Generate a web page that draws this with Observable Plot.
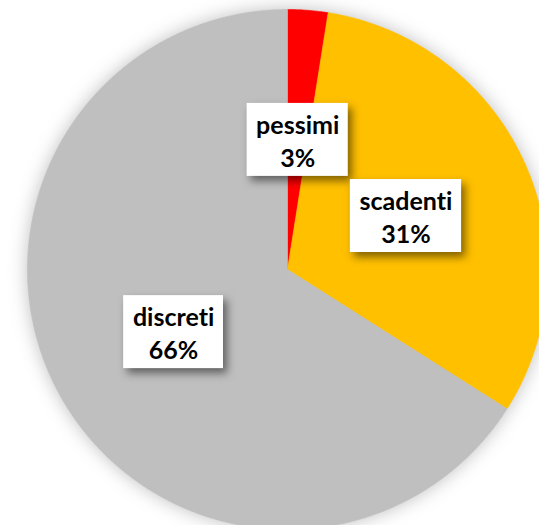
<!DOCTYPE html>
<html><head><meta charset="utf-8">
<script src="https://cdn.jsdelivr.net/npm/d3@7"></script>
<script src="https://cdn.jsdelivr.net/npm/@observablehq/plot@0.6"></script>
<style>
html,body{margin:0;padding:0;background:#fff;}
#chart svg{display:block;overflow:hidden;}
#chart svg text{font-variant-ligatures:none;}
</style></head><body><div id="chart"></div>
<script>
const categories = ["pessimi", "scadenti", "discreti"];
const values = [2.5, 31.5, 66.0];
const percentLabels = ["3%", "31%", "66%"];
const colors = ["#FF0000", "#FFC000", "#BFBFBF"];

const W = 539, H = 525, R = 260, CX = 287, CY = 269;
const FONT_SIZE = 25, FONT_FAMILY = "Lato";

const total = d3.sum(values);
let acc = 0;
const slicePts = [];
const labelData = [];
categories.forEach((c, i) => {
  const a0 = acc / total * 2 * Math.PI;
  acc += values[i];
  const a1 = acc / total * 2 * Math.PI;
  slicePts.push({cat: c, x: 0, y: 0});
  const n = Math.max(4, Math.ceil((a1 - a0) / (Math.PI / 360)));
  for (let k = 0; k <= n; k++) {
    const t = a0 + (a1 - a0) * k / n;
    slicePts.push({cat: c, x: Math.sin(t), y: Math.cos(t)});
  }
  slicePts.push({cat: c, x: 0, y: 0});
  const am = (a0 + a1) / 2;
  labelData.push({cat: c, label: percentLabels[i], x: 0.5 * Math.sin(am), y: 0.5 * Math.cos(am)});
});

const ctx = document.createElement("canvas").getContext("2d");
ctx.font = `bold ${FONT_SIZE}px ${FONT_FAMILY}`;
labelData.forEach(d => {
  const w = Math.max(ctx.measureText(d.cat).width, ctx.measureText(d.label).width) + 18;
  const h = 73;
  d.x1 = d.x - w / 2 / R; d.x2 = d.x + w / 2 / R;
  d.y1 = d.y - h / 2 / R; d.y2 = d.y + h / 2 / R;
});

const chart = Plot.plot({
  width: W, height: H,
  margin: 0,
  x: {domain: [-CX / R, (W - CX) / R], axis: null},
  y: {domain: [-(H - CY) / R, CY / R], axis: null},
  color: {domain: categories, range: colors},
  marks: [
    Plot.line(slicePts, {x: "x", y: "y", z: "cat", fill: "cat", stroke: "cat", strokeWidth: 0.6, curve: "linear"}),
    Plot.rect(labelData, {x1: "x1", x2: "x2", y1: "y1", y2: "y2", fill: "white"}),
    Plot.text(labelData, {x: "x", y: "y", text: d => d.cat + "\n" + d.label,
      fontSize: FONT_SIZE, fontWeight: "bold", fontFamily: FONT_FAMILY, lineHeight: 1.3, fill: "#000"})
  ]
});
const lineG = chart.querySelector('g[aria-label="line"]');
if (lineG) lineG.style.filter = "drop-shadow(0px 0px 9px rgba(0,0,0,0.25))";
const rectG = chart.querySelector('g[aria-label="rect"]');
if (rectG) rectG.style.filter = "drop-shadow(4px 5px 4px rgba(0,0,0,0.5))";
document.getElementById("chart").appendChild(chart);
</script></body></html>
